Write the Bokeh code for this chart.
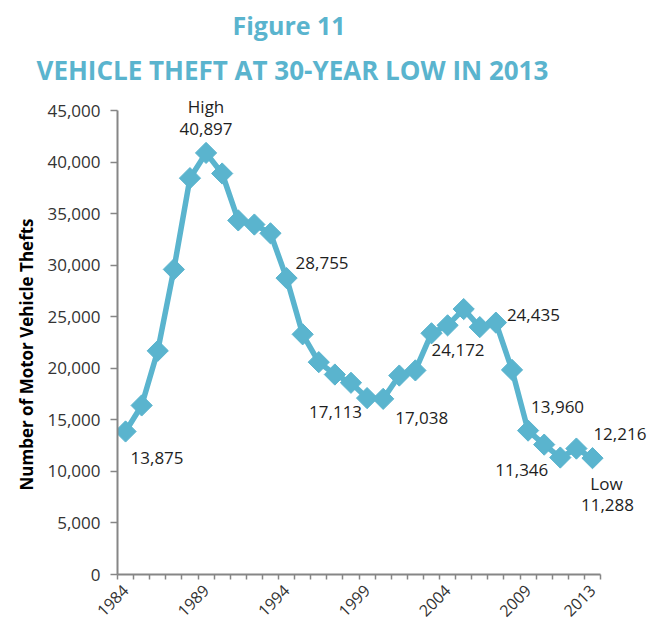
import math
from bokeh.plotting import figure
from bokeh.models import FixedTicker, NumeralTickFormatter, Title, Range1d, ColumnDataSource
from bokeh.core.properties import value
from bokeh.embed import file_html
from bokeh.resources import INLINE

# ---- data ----
years = list(range(1984, 2014))
thefts = [13875, 16400, 21700, 29600, 38450, 40897, 38900, 34350, 33950, 33100,
          28755, 23300, 20600, 19400, 18600, 17113, 17038, 19300, 19800, 23400,
          24172, 25750, 24000, 24435, 19850, 13960, 12600, 11346, 12216, 11288]
label_years = [1984, 1989, 1994, 1999, 2004, 2009, 2013]
y_ticks = [0, 5000, 10000, 15000, 20000, 25000, 30000, 35000, 40000, 45000]

ann_years = [1984, 1989, 1989, 1994, 1999, 2000, 2004, 2007, 2009, 2011, 2012, 2013, 2013]
ann_text = ["13,875", "High", "40,897", "28,755", "17,113", "17,038", "24,172",
            "24,435", "13,960", "11,346", "12,216", "Low", "11,288"]
# styling of annotations (pixel offsets / alignment)
ann_dx = [5, 0, 0, 9, -5, 12, -16, 11, 3, -12, 17, 14, 15]
ann_dy = [27, -46, -24, -15, 14, 19, 25, -8, -24, 12, -15, 25, 47]
ann_align = ["left", "center", "center", "left", "right", "left", "left", "left",
             "left", "right", "left", "center", "center"]

TEAL = "#5AB4CE"
FONT = "Open Sans"
AXIS = "#868686"

lookup = dict(zip(years, thefts))

p = figure(width=649, height=624, x_range=Range1d(1983.5, 2016.54), y_range=Range1d(0, 47050),
           output_backend="svg", toolbar_location=None, title=None,
           min_border_left=117, min_border_right=0, min_border_top=0, min_border_bottom=36)
p.grid.visible = False
p.outline_line_color = None
p.background_fill_color = "white"
p.border_fill_color = "white"

# titles
t_main = Title(text="VEHICLE THEFT AT 30-YEAR LOW IN 2013", text_font=FONT, text_font_size="26px",
               text_font_style="bold", text_color=TEAL, align="left", offset=-81, standoff=4)
t_fig = Title(text="Figure 11", text_font=FONT, text_font_size="25px",
              text_font_style="bold", text_color=TEAL, align="left", offset=115, standoff=11)
p.add_layout(t_main, "above")
p.add_layout(t_fig, "above")

# line + markers
src = ColumnDataSource(dict(x=years, y=thefts))
p.line("x", "y", source=src, line_color=TEAL, line_width=5.5)
p.scatter("x", "y", source=src, marker="square", angle=math.pi / 4, size=15,
          fill_color=TEAL, line_color=TEAL)

# annotations
asrc = ColumnDataSource(dict(x=ann_years, y=[lookup[y] for y in ann_years], text=ann_text,
                             dx=ann_dx, dy=ann_dy, align=ann_align))
p.text("x", "y", text="text", source=asrc, x_offset="dx", y_offset="dy", text_align="align",
       text_baseline="middle", text_font=value(FONT), text_font_size="17px", text_color="#1e1e1e")

# x axis (tick marks between categories)
xa = p.xaxis[0]
xa.ticker = FixedTicker(ticks=label_years, minor_ticks=[y - 0.5 for y in years] + [2013.5])
xa.bounds = (1983.5, 2013.5)
xa.major_tick_out = 0
xa.major_tick_in = 0
xa.minor_tick_out = 5
xa.minor_tick_in = 0
xa.minor_tick_line_color = AXIS
xa.minor_tick_line_width = 1.5
xa.axis_line_color = AXIS
xa.axis_line_width = 2
xa.major_label_orientation = math.pi / 4
xa.major_label_text_font = FONT
xa.major_label_text_font_size = "16px"
xa.major_label_text_color = "#333333"
xa.major_label_standoff = 8

# y axis
ya = p.yaxis[0]
ya.ticker = FixedTicker(ticks=y_ticks)
ya.formatter = NumeralTickFormatter(format="0,0")
ya.bounds = (0, 45000)
ya.major_tick_out = 7
ya.major_tick_in = 0
ya.minor_tick_out = 0
ya.minor_tick_in = 0
ya.major_tick_line_color = AXIS
ya.major_tick_line_width = 1.5
ya.axis_line_color = AXIS
ya.axis_line_width = 2
ya.major_label_text_font = FONT
ya.major_label_text_font_size = "17px"
ya.major_label_text_color = "#333333"
ya.major_label_standoff = 10

# y axis title, aligned to the lower part of the axis like the original
t_y = Title(text="Number of Motor Vehicle Thefts", text_font=FONT, text_font_size="17px",
            text_font_style="bold", text_color="black", align="left", offset=84, standoff=13)
p.add_layout(t_y, "left")

open("out.html", "w").write(file_html(p, INLINE))
